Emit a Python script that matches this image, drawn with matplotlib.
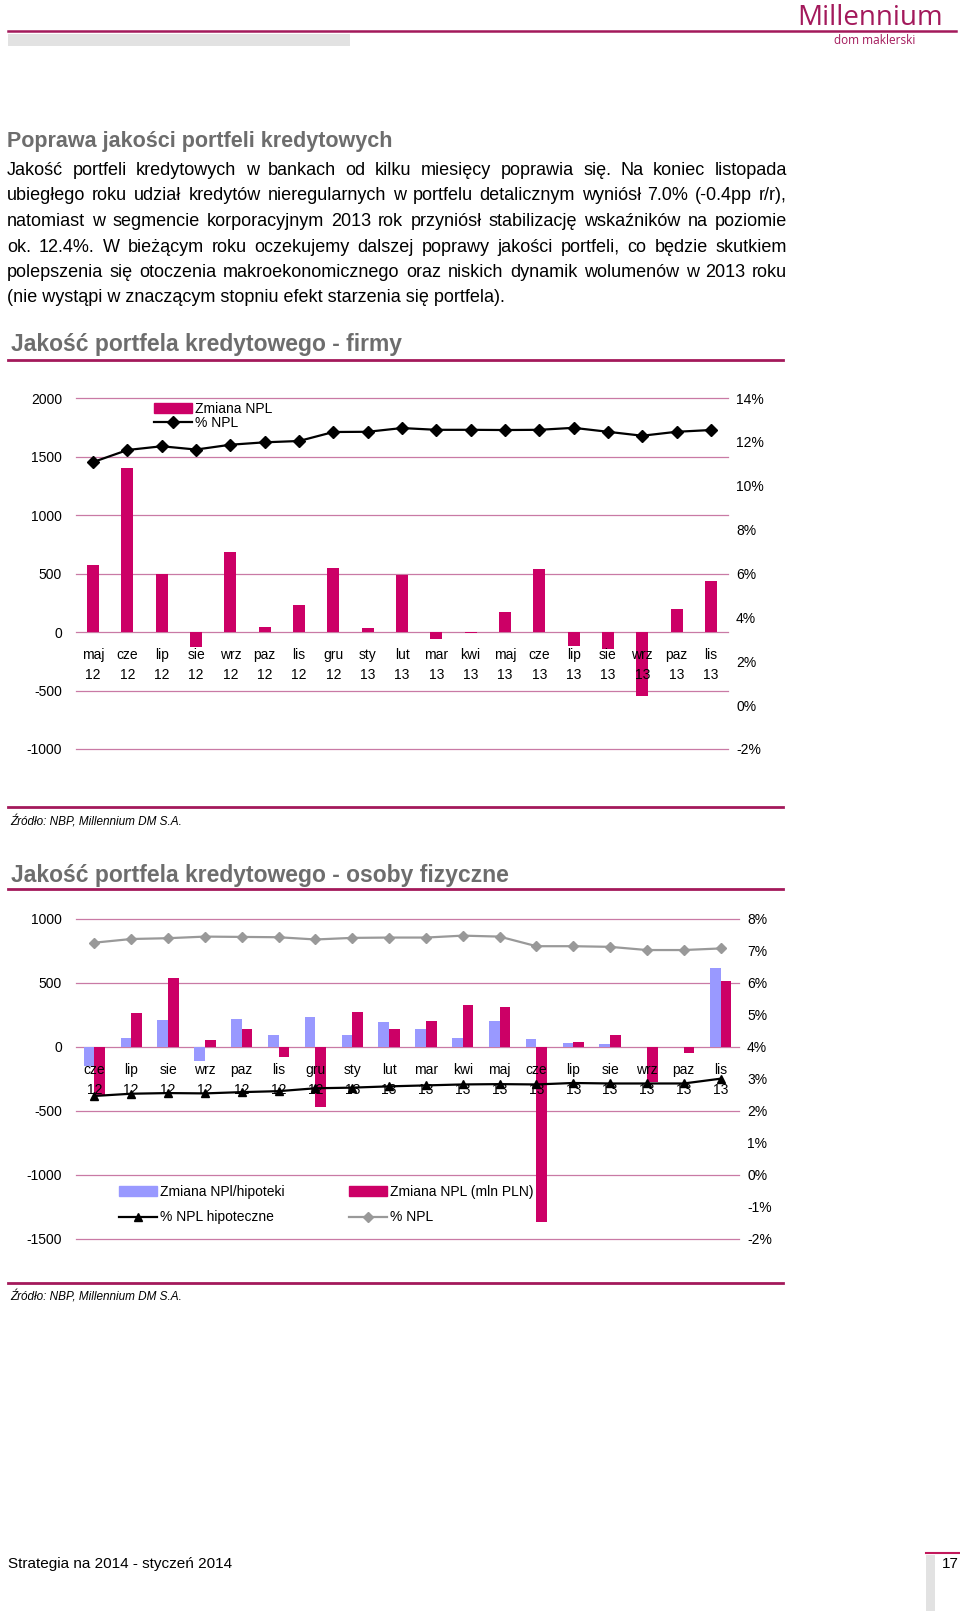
import numpy as np
import matplotlib
matplotlib.use("Agg")
import matplotlib.pyplot as plt
from matplotlib.lines import Line2D
from matplotlib.patches import Patch, Rectangle

plt.rcParams['font.family'] = ['Liberation Sans', 'DejaVu Sans']
plt.rcParams['axes.unicode_minus'] = False

W, H = 960, 1611
MAGENTA = '#CC0066'
DARK = '#A3195B'
GRID = '#C97AA5'
GREY_T = '#6D6D6D'

# ---- chart 1: firmy ----
months1 = ['maj', 'cze', 'lip', 'sie', 'wrz', 'paz', 'lis', 'gru', 'sty', 'lut',
           'mar', 'kwi', 'maj', 'cze', 'lip', 'sie', 'wrz', 'paz', 'lis']
years1 = ['12'] * 8 + ['13'] * 11
zmiana_npl_firmy = [570, 1400, 500, -125, 685, 40, 232, 550, 31, 483,
                    -56, -6, 170, 540, -119, -147, -545, 200, 432]
npl_firmy = [11.08, 11.63, 11.80, 11.65, 11.87, 11.98, 12.04, 12.45, 12.46, 12.63,
             12.55, 12.55, 12.54, 12.55, 12.64, 12.46, 12.28, 12.46, 12.54]

# ---- chart 2: osoby fizyczne ----
months2 = ['cze', 'lip', 'sie', 'wrz', 'paz', 'lis', 'gru', 'sty', 'lut',
           'mar', 'kwi', 'maj', 'cze', 'lip', 'sie', 'wrz', 'paz', 'lis']
years2 = ['12'] * 7 + ['13'] * 11
zmiana_hipoteki = [-152, 73, 211, -107, 216, 94, 237, 91, 198,
                   141, 68, 200, 60, 31, 21, 3, 0, 620]
zmiana_npl_fiz = [-380, 268, 539, 55, 143, -76, -466, 271, 138,
                  203, 328, 310, -1370, 42, 96, -271, -49, 516]
npl_hipoteczne = [2.47, 2.54, 2.56, 2.55, 2.59, 2.62, 2.71, 2.73, 2.77,
                  2.80, 2.83, 2.84, 2.83, 2.875, 2.86, 2.86, 2.86, 3.01]
npl_fiz = [7.26, 7.375, 7.40, 7.45, 7.44, 7.43, 7.36, 7.41, 7.42,
           7.42, 7.48, 7.45, 7.15, 7.15, 7.13, 7.03, 7.03, 7.08]

paragraph = [
    "Jakość portfeli kredytowych w bankach od kilku miesięcy poprawia się. Na koniec listopada",
    "ubiegłego roku udział kredytów nieregularnych w portfelu detalicznym wyniósł 7.0% (-0.4pp r/r),",
    "natomiast w segmencie korporacyjnym 2013 rok przyniósł stabilizację wskaźników na poziomie",
    "ok. 12.4%. W bieżącym roku oczekujemy dalszej poprawy jakości portfeli, co będzie skutkiem",
    "polepszenia się otoczenia makroekonomicznego oraz niskich dynamik wolumenów w 2013 roku",
    "(nie wystąpi w znaczącym stopniu efekt starzenia się portfela).",
]


def fx(x):
    return x / W


def fy(y):
    return 1 - y / H


fig = plt.figure(figsize=(W / 100, H / 100), dpi=100)
fig.patch.set_facecolor('white')


def hline(y, x0, x1, color, lw):
    fig.add_artist(Line2D([fx(x0), fx(x1)], [fy(y), fy(y)], color=color, lw=lw))


def rect(x0, y0, x1, y1, color):
    fig.add_artist(Rectangle((fx(x0), fy(y1)), fx(x1) - fx(x0), fy(y0) - fy(y1),
                             facecolor=color, edgecolor='none'))


# header
hline(31, 8, 956, DARK, 1.8)
rect(8, 34, 350, 46, '#E2E2E2')
fig.text(fx(870), fy(18), 'Millennium', fontsize=20, color=DARK, ha='center', va='center',
         family=['Open Sans', 'DejaVu Sans'])
fig.text(fx(875), fy(40), 'dom maklerski', fontsize=8.5, color=DARK, ha='center', va='center',
         family=['Open Sans', 'DejaVu Sans'])

# section title and paragraph
fig.text(fx(7), fy(141), 'Poprawa jakości portfeli kredytowych', fontsize=15.5,
         fontweight='bold', color=GREY_T, va='center')

fig.canvas.draw()
renderer = fig.canvas.get_renderer()
x_left, x_right = 7, 787
for k, line in enumerate(paragraph):
    y = fy(175 + k * 25.5)
    if k == len(paragraph) - 1:
        fig.text(fx(x_left), y, line, fontsize=13, va='baseline')
        continue
    words = line.split(' ')
    texts = [fig.text(0, y, w, fontsize=13, va='baseline') for w in words]
    widths = [t.get_window_extent(renderer).width for t in texts]
    gap = (x_right - x_left - sum(widths)) / (len(words) - 1)
    x = x_left
    for t, w in zip(texts, widths):
        t.set_x(fx(x))
        x += w + gap

# chart titles and rules
fig.text(fx(11), fy(345), 'Jakość portfela kredytowego - firmy', fontsize=16.5,
         fontweight='bold', color=GREY_T, va='center')
hline(360, 8, 783, DARK, 2)
hline(807, 8, 783, DARK, 2)
fig.text(fx(10), fy(822), 'Źródło: NBP, Millennium DM S.A.', fontsize=8.5,
         style='italic', va='center')

fig.text(fx(11), fy(875), 'Jakość portfela kredytowego - osoby fizyczne', fontsize=16.5,
         fontweight='bold', color=GREY_T, va='center')
hline(889, 8, 783, DARK, 2)
hline(1283, 8, 783, DARK, 2)
fig.text(fx(10), fy(1297), 'Źródło: NBP, Millennium DM S.A.', fontsize=8.5,
         style='italic', va='center')

# footer
fig.text(fx(8), fy(1564), 'Strategia na 2014 - styczeń 2014', fontsize=11, va='center')
rect(926, 1555, 935, 1611, '#E2E2E2')
hline(1553, 926, 960, '#C2185B', 1.5)
fig.text(fx(942), fy(1564), '17', fontsize=11, va='center')


def style_axes(ax, ax2):
    for a in (ax, ax2):
        for s in a.spines.values():
            s.set_visible(False)
        a.tick_params(length=0, labelsize=10)
    ax.set_xticks([])
    ax.yaxis.grid(True, color=GRID, lw=0.9)
    ax.set_axisbelow(True)
    for gl in ax.get_ygridlines():
        gl.set_clip_on(False)


# ---- chart 1 ----
ax1 = fig.add_axes([fx(76), fy(749), fx(728) - fx(76), (749 - 398) / H])
ax1b = ax1.twinx()
x1 = np.arange(len(months1))
ax1.bar(x1, zmiana_npl_firmy, width=0.35, color=MAGENTA, zorder=3, label='Zmiana NPL')
ax1b.plot(x1, npl_firmy, color='black', lw=1.6, marker='D', markersize=6, label='% NPL')
ax1.set_xlim(-0.5, 18.5)
ax1.set_ylim(-1000, 2000)
ax1.set_yticks(range(-1000, 2001, 500))
ax1b.set_ylim(-2, 14)
ax1b.set_yticks(range(-2, 15, 2))
ax1b.set_yticklabels(['%d%%' % v for v in range(-2, 15, 2)])
style_axes(ax1, ax1b)
ax1.tick_params(axis='y', pad=10)
ax1b.tick_params(axis='y', pad=5.8)
for i in x1:
    ax1.text(i, -197, months1[i], ha='center', va='center', fontsize=10, zorder=4)
    ax1.text(i, -368, years1[i], ha='center', va='center', fontsize=10, zorder=4)
h = [Patch(color=MAGENTA), Line2D([], [], color='black', lw=1.6, marker='D', markersize=6)]
ax1b.legend(h, ['Zmiana NPL', '% NPL'], loc='upper left', bbox_to_anchor=(0.12, 0.99),
            frameon=False, fontsize=10, handlelength=2.7, handletextpad=0.2,
            labelspacing=0.05, borderpad=0, borderaxespad=0)

# ---- chart 2 ----
ax2 = fig.add_axes([fx(76), fy(1239), fx(739) - fx(76), (1239 - 919) / H])
ax2b = ax2.twinx()
x2 = np.arange(len(months2))
ax2.bar(x2 - 0.145, zmiana_hipoteki, width=0.29, color='#9999FF', zorder=3)
ax2.bar(x2 + 0.145, zmiana_npl_fiz, width=0.29, color=MAGENTA, zorder=3)
ax2b.plot(x2, npl_hipoteczne, color='black', lw=1.6, marker='^', markersize=6)
ax2b.plot(x2, npl_fiz, color='#999999', lw=1.6, marker='D', markersize=5.5)
ax2.set_xlim(-0.5, 17.5)
ax2.set_ylim(-1500, 1000)
ax2.set_yticks(range(-1500, 1001, 500))
ax2b.set_ylim(-2, 8)
ax2b.set_yticks(range(-2, 9))
ax2b.set_yticklabels(['%d%%' % v for v in range(-2, 9)])
style_axes(ax2, ax2b)
ax2.tick_params(axis='y', pad=10)
ax2b.tick_params(axis='y', pad=5.8)
for i in x2:
    ax2.text(i, -182, months2[i], ha='center', va='center', fontsize=10, zorder=4)
    ax2.text(i, -338, years2[i], ha='center', va='center', fontsize=10, zorder=4)
leg_a = ax2b.legend([Patch(color='#9999FF'),
                     Line2D([], [], color='black', lw=1.6, marker='^', markersize=6)],
                    ['Zmiana NPl/hipoteki', '% NPL hipoteczne'],
                    loc='upper left', bbox_to_anchor=(0.065, 0.17), frameon=False,
                    fontsize=10, handlelength=2.7, handletextpad=0.25,
                    labelspacing=0.85, borderpad=0, borderaxespad=0)
ax2b.add_artist(leg_a)
ax2b.legend([Patch(color=MAGENTA),
             Line2D([], [], color='#999999', lw=1.6, marker='D', markersize=5.5)],
            ['Zmiana NPL (mln PLN)', '% NPL'],
            loc='upper left', bbox_to_anchor=(0.412, 0.17), frameon=False,
            fontsize=10, handlelength=2.7, handletextpad=0.25,
            labelspacing=0.85, borderpad=0, borderaxespad=0)

fig.savefig('out.png', dpi=100)
